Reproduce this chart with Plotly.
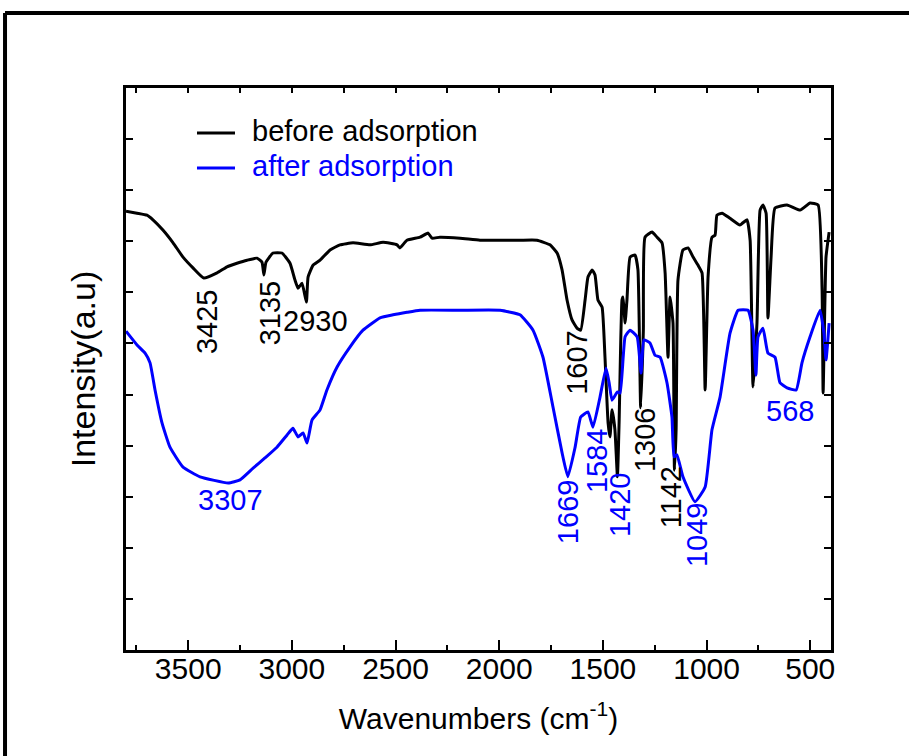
import plotly.graph_objects as go

# ---------------- data ----------------
before_wn = [3800, 3747, 3699, 3670, 3622, 3573, 3525, 3477, 3425, 3361,
             3313, 3265, 3216, 3168, 3144, 3135, 3125, 3091, 3048, 3009,
             2985, 2970, 2951, 2930, 2922, 2898, 2864, 2816, 2768, 2705,
             2623, 2560, 2493, 2479, 2445, 2382, 2343, 2324, 2286, 2189,
             2093, 1996, 1900, 1818, 1755, 1721, 1697, 1673, 1649, 1625,
             1607, 1586, 1572, 1552, 1538, 1524, 1504, 1490, 1475, 1466,
             1456, 1442, 1430, 1422, 1408, 1403, 1393, 1384, 1369, 1345,
             1331, 1318, 1305, 1297, 1263, 1239, 1215, 1200, 1186, 1176,
             1162, 1155, 1147, 1138, 1114, 1089, 1065, 1041, 1022, 1007,
             993, 974, 959, 950, 925, 887, 839, 805, 790, 776,
             757, 742, 728, 713, 704, 689, 670, 612, 549, 501,
             462, 443, 438, 424, 409]
before_int = [85.9, 85.5, 85.1, 84.2, 82.2, 79.7, 76.9, 74.8, 72.8, 73.8,
              75.0, 75.7, 76.3, 76.7, 75.9, 73.4, 75.9, 77.7, 77.7, 75.7,
              72.4, 70.8, 71.8, 68.1, 73.0, 75.3, 76.3, 78.3, 79.3, 79.7,
              79.3, 79.8, 79.3, 78.7, 80.2, 80.8, 81.6, 80.6, 80.8, 80.6,
              80.2, 80.2, 80.2, 80.2, 79.3, 77.7, 74.4, 68.5, 64.6, 63.0,
              62.6, 68.5, 73.0, 74.4, 73.4, 68.5, 67.1, 57.3, 44.4, 41.7,
              47.0, 43.1, 33.9, 44.4, 68.5, 69.1, 64.0, 68.5, 76.9, 77.3,
              74.4, 47.4, 62.6, 80.8, 81.8, 80.8, 79.7, 73.8, 57.3, 69.1,
              64.0, 35.2, 43.1, 72.4, 78.3, 78.7, 76.9, 75.3, 73.8, 50.9,
              73.0, 80.8, 81.2, 85.1, 85.5, 84.5, 83.2, 84.2, 80.2, 51.5,
              64.0, 86.1, 87.1, 85.5, 65.0, 76.9, 86.5, 87.1, 86.1, 87.5,
              87.1, 70.5, 50.3, 76.9, 81.8]

after_wn = [3800, 3747, 3708, 3684, 3660, 3626, 3588, 3525, 3443, 3307,
            3250, 3187, 3130, 3072, 3023, 2995, 2970, 2946, 2927, 2903,
            2864, 2831, 2782, 2720, 2657, 2575, 2512, 2445, 2382, 2189,
            1996, 1900, 1837, 1789, 1741, 1697, 1669, 1634, 1607, 1572,
            1548, 1514, 1485, 1470, 1456, 1430, 1417, 1393, 1369, 1335,
            1316, 1302, 1273, 1249, 1224, 1191, 1167, 1157, 1143, 1114,
            1056, 1007, 974, 935, 887, 848, 800, 776, 762, 752,
            728, 704, 670, 646, 612, 568, 540, 501, 453, 434,
            424, 409]
after_int = [62.4, 59.7, 58.1, 56.2, 50.9, 44.4, 39.7, 35.8, 33.9, 32.7,
             33.3, 35.6, 37.6, 39.7, 42.1, 43.4, 41.7, 42.5, 40.5, 45.0,
             47.0, 50.9, 55.4, 59.3, 62.6, 65.0, 65.6, 66.1, 66.5, 66.5,
             66.5, 65.6, 62.6, 57.3, 47.6, 38.6, 33.9, 39.7, 45.6, 46.6,
             43.6, 49.5, 55.2, 52.3, 48.9, 50.5, 50.3, 61.3, 62.6, 61.3,
             54.2, 60.7, 60.1, 57.7, 57.3, 52.3, 45.6, 37.8, 38.2, 33.9,
             29.0, 31.9, 43.1, 49.5, 62.0, 66.5, 66.5, 62.6, 53.8, 61.3,
             63.0, 58.1, 57.3, 52.3, 51.3, 50.9, 56.2, 61.3, 66.5, 62.0,
             56.8, 64.0]

peak_labels = ["3425", "3135", "2930", "1607", "1306", "1142",
               "3307", "1669", "1584", "1420", "1049", "568"]
peak_wn = [3409, 3108, 2888, 1625, 1297, 1171,
           3298, 1668, 1528, 1417, 1046, 598]
peak_int = [64.2, 66.0, 64.4, 56.4, 41.1, 29.9,
            29.4, 27.0, 37.0, 28.4, 22.5, 46.8]
peak_series = ["before", "before", "before", "before", "before", "before",
               "after", "after", "after", "after", "after", "after"]
peak_vertical = [True, True, False, True, True, True,
                 False, True, True, True, True, False]

series_names = ["before adsorption", "after adsorption"]
x_ticks = [3500, 3000, 2500, 2000, 1500, 1000, 500]

BLACK = "#000000"
BLUE = "#0000FF"
FONT = "Liberation Sans, Arial, sans-serif"

fig = go.Figure()
fig.add_trace(go.Scatter(x=before_wn, y=before_int, mode="lines",
                         name=series_names[0], showlegend=False,
                         line=dict(color=BLACK, width=3, shape="spline", smoothing=0.4)))
fig.add_trace(go.Scatter(x=after_wn, y=after_int, mode="lines",
                         name=series_names[1], showlegend=False,
                         line=dict(color=BLUE, width=3, shape="spline", smoothing=0.4)))
# invisible trace to carry the top tick axis
fig.add_trace(go.Scatter(x=[3800, 400], y=[0, 0], xaxis="x2", mode="lines",
                         line=dict(width=0), showlegend=False, hoverinfo="skip"))

for txt, wn, yv, s, vert in zip(peak_labels, peak_wn, peak_int, peak_series, peak_vertical):
    fig.add_annotation(x=wn, y=yv, text=txt, showarrow=False,
                       textangle=-90 if vert else 0,
                       font=dict(family=FONT, size=29, color=BLACK if s == "before" else BLUE))

# hand-drawn legend (long sample lines as in the original)
legend_y = [0.920, 0.8577]
legend_col = [BLACK, BLUE]
shapes = []
for name, ly, col in zip(series_names, legend_y, legend_col):
    shapes.append(dict(type="line", xref="paper", yref="paper", x0=0.1007, x1=0.1546,
                       y0=ly, y1=ly, line=dict(color=col, width=3)))
    fig.add_annotation(xref="paper", yref="paper", x=0.1759, y=ly + 0.003, text=name,
                       showarrow=False, xanchor="left", yanchor="middle",
                       font=dict(family=FONT, size=29, color=col))

# outer frame (top and left edges)
shapes += [
    dict(type="line", xref="paper", yref="paper", x0=-0.1716, x1=1.12, y0=1.1335, y1=1.1335,
         line=dict(color=BLACK, width=4)),
    dict(type="line", xref="paper", yref="paper", x0=-0.1716, x1=-0.1716, y0=1.1335, y1=-0.2,
         line=dict(color=BLACK, width=4)),
]

fig.update_layout(
    width=909, height=756,
    margin=dict(l=126, r=78, t=88, b=106),
    paper_bgcolor="white", plot_bgcolor="white",
    showlegend=False,
    xaxis=dict(range=[3800, 400], showline=True, linecolor=BLACK, linewidth=3,
               ticks="inside", ticklen=10, tickwidth=2, tickcolor=BLACK,
               tickvals=x_ticks, ticktext=[str(v) for v in x_ticks],
               ticklabelstandoff=-10,
               minor=dict(dtick=250, tick0=0, ticks="inside", ticklen=5, tickwidth=2, tickcolor=BLACK),
               showgrid=False, zeroline=False,
               tickfont=dict(family=FONT, size=30, color=BLACK),
               title=dict(text="Wavenumbers (cm<sup>-1</sup>)", standoff=24,
                          font=dict(family=FONT, size=30, color=BLACK))),
    xaxis2=dict(range=[3800, 400], overlaying="x", side="top", showline=True,
                linecolor=BLACK, linewidth=3, ticks="inside", ticklen=5, tickwidth=2,
                tickcolor=BLACK, dtick=250, tick0=0, showticklabels=False,
                showgrid=False, zeroline=False),
    yaxis=dict(range=[0, 110], showline=True, linecolor=BLACK, linewidth=3,
               mirror="ticks", ticks="inside", ticklen=7, tickwidth=2, tickcolor=BLACK,
               dtick=10, tick0=0, showticklabels=False, showgrid=False, zeroline=False,
               title=dict(text="Intensity(a.u)", standoff=18,
                          font=dict(family=FONT, size=34, color=BLACK))),
    shapes=shapes,
)

fig.write_html("out.html")
